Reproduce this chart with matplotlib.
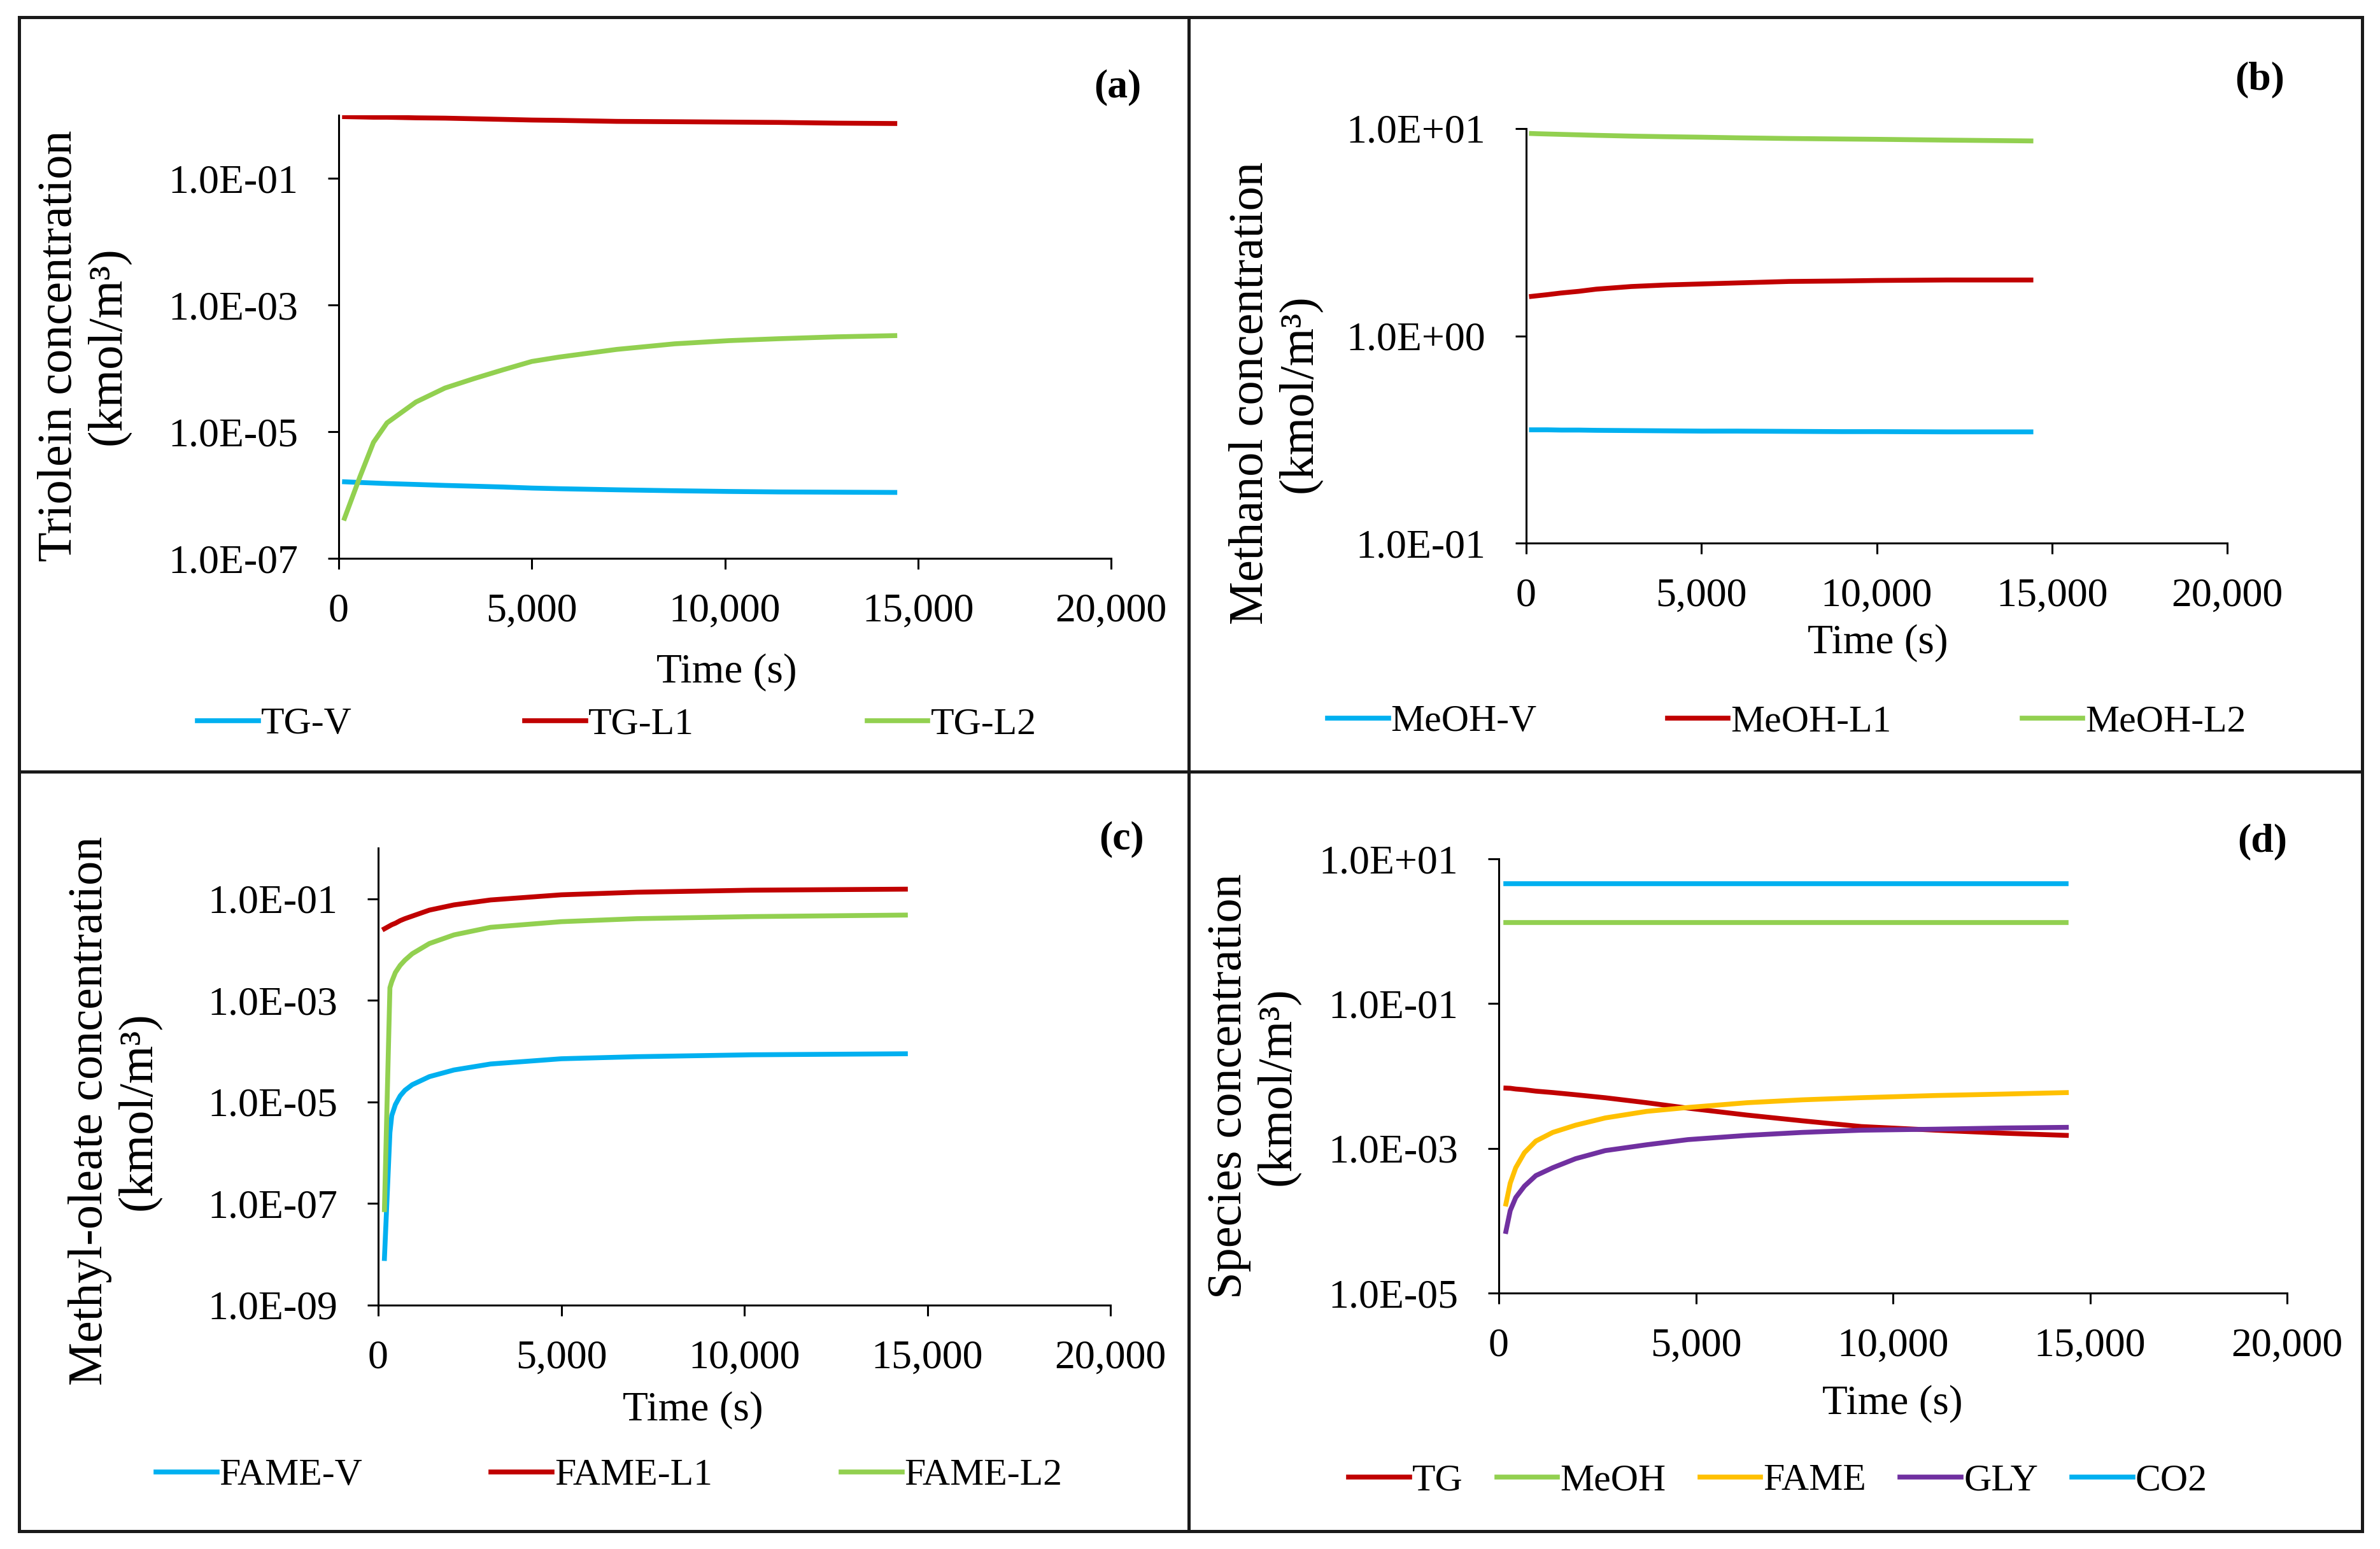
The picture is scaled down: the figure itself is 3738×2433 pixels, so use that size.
import matplotlib
matplotlib.use("Agg")
import matplotlib.pyplot as plt
from matplotlib.lines import Line2D
from matplotlib.ticker import FuncFormatter, FixedLocator, NullLocator

plt.rcParams['font.family'] = ['Liberation Serif', 'DejaVu Serif']

# ---- data ----
# (a) triolein
t_a = [150, 550, 900, 1250, 2000, 2750, 3500, 4250, 5000, 5700, 7200, 8700, 10100, 11400, 12900, 14400]
tg_v = [1.62e-6, 1.58e-6, 1.55e-6, 1.52e-6, 1.47e-6, 1.42e-6, 1.38e-6, 1.34e-6, 1.29e-6, 1.26e-6,
        1.21e-6, 1.17e-6, 1.14e-6, 1.12e-6, 1.11e-6, 1.10e-6]
tg_l1 = [0.95, 0.94, 0.93, 0.93, 0.91, 0.90, 0.88, 0.86, 0.84, 0.83, 0.80, 0.79, 0.78, 0.77, 0.75, 0.74]
tg_l2 = [4.3e-7, 1.95e-6, 6.8e-6, 1.38e-5, 2.95e-5, 4.9e-5, 6.9e-5, 9.5e-5, 1.29e-4, 1.51e-4,
         2.0e-4, 2.45e-4, 2.75e-4, 2.95e-4, 3.16e-4, 3.3e-4]

# (b) methanol
t_b = [150, 300, 600, 1000, 1500, 2000, 3000, 4000, 5000, 6000, 7500, 9000, 10000, 12000, 14400]
meoh_v = [0.352, 0.352, 0.352, 0.351, 0.351, 0.350, 0.349, 0.348, 0.347, 0.347, 0.346, 0.345,
          0.345, 0.344, 0.344]
meoh_l1 = [1.55, 1.56, 1.58, 1.61, 1.64, 1.68, 1.73, 1.76, 1.78, 1.80, 1.83, 1.84, 1.85, 1.86, 1.86]
meoh_l2 = [9.47, 9.45, 9.42, 9.38, 9.33, 9.28, 9.20, 9.14, 9.09, 9.03, 8.96, 8.91, 8.88, 8.80, 8.72]

# (c) methyl-oleate
t_c = [170, 320, 370, 470, 600, 730, 930, 1400, 2070, 3070, 5000, 7070, 10200, 14400]
fame_v = [8.3e-9, 2.5e-6, 5.4e-6, 8.9e-6, 1.32e-5, 1.7e-5, 2.19e-5, 3.16e-5, 4.27e-5, 5.6e-5,
          7.1e-5, 7.8e-5, 8.5e-5, 8.9e-5]
fame_l1 = [2.57e-2, 2.95e-2, 3.09e-2, 3.31e-2, 3.72e-2, 4.07e-2, 4.57e-2, 6.0e-2, 7.6e-2, 9.5e-2,
           0.120, 0.135, 0.148, 0.155]
fame_l2 = [7.6e-8, 1.78e-3, 2.34e-3, 3.55e-3, 4.9e-3, 6.2e-3, 8.3e-3, 1.32e-2, 1.95e-2, 2.75e-2,
           3.55e-2, 4.07e-2, 4.47e-2, 4.79e-2]

# (d) species
t_d = [180, 290, 430, 650, 940, 1370, 1950, 2700, 3750, 4800, 6300, 7700, 9200, 11100, 12800, 14400]
sp_tg = [6.8e-3, 6.76e-3, 6.6e-3, 6.45e-3, 6.17e-3, 5.9e-3, 5.5e-3, 5.0e-3, 4.27e-3, 3.59e-3,
         2.88e-3, 2.40e-3, 2.0e-3, 1.78e-3, 1.62e-3, 1.51e-3]
sp_meoh = [1.31] * 16
sp_fame = [1.7e-4, 3.3e-4, 5.4e-4, 8.7e-4, 1.26e-3, 1.66e-3, 2.09e-3, 2.63e-3, 3.24e-3, 3.67e-3,
           4.27e-3, 4.68e-3, 5.01e-3, 5.37e-3, 5.62e-3, 5.89e-3]
sp_gly = [7.1e-5, 1.38e-4, 2.09e-4, 3.0e-4, 4.2e-4, 5.4e-4, 7.2e-4, 9.3e-4, 1.12e-3, 1.32e-3,
          1.51e-3, 1.66e-3, 1.78e-3, 1.84e-3, 1.91e-3, 1.95e-3]
sp_co2 = [4.5] * 16

x_ticks = [0, 5000, 10000, 15000, 20000]

CYAN, RED, GREEN, YELLOW, PURPLE = '#00B0F0', '#C00000', '#92D050', '#FFC000', '#7030A0'

W, H = 3738, 2433
fig = plt.figure(figsize=(W / 100, H / 100), dpi=100, facecolor='white')


def fx(x):
    return x / W


def fy(y):
    return 1 - y / H


def make_axes(box, ylim, yticks):
    l, t, r, b = box
    ax = fig.add_axes([fx(l), fy(b), (r - l) / W, (b - t) / H])
    ax.set_yscale('log')
    ax.set_xlim(0, 20000)
    ax.set_ylim(*ylim)
    ax.xaxis.set_major_locator(FixedLocator(x_ticks))
    ax.yaxis.set_major_locator(FixedLocator(yticks))
    ax.yaxis.set_minor_locator(NullLocator())
    ax.xaxis.set_major_formatter(FuncFormatter(lambda v, p: f"{v:,.0f}"))
    ax.yaxis.set_major_formatter(FuncFormatter(lambda v, p: f"{v:.1E}"))
    for s in ['top', 'right']:
        ax.spines[s].set_visible(False)
    for s in ['left', 'bottom']:
        ax.spines[s].set_linewidth(2.2)
        ax.spines[s].set_color('black')
    ax.tick_params(axis='both', direction='out', length=12, width=2.2, labelsize=46)
    ax.tick_params(axis='x', pad=27)
    ax.tick_params(axis='y', pad=34)
    ax.set_facecolor('none')
    return ax


def finish(ax, lines, labels, leg_xy, colsp, ylab_xy, ylab, xlab_xy, tag_xy, tag):
    ax.legend(lines, labels, loc='center left', bbox_to_anchor=(fx(leg_xy[0]), fy(leg_xy[1])),
              bbox_transform=fig.transFigure, ncol=len(lines), frameon=False, fontsize=43,
              borderpad=0, borderaxespad=0, handlelength=1.6, handletextpad=0.07,
              columnspacing=colsp)
    fig.text(fx(ylab_xy[0]), fy(ylab_xy[1]), ylab, rotation=90, ha='center', va='center',
             multialignment='center', fontsize=55, linespacing=1.15)
    fig.text(fx(xlab_xy[0]), fy(xlab_xy[1]), 'Time (s)', ha='center', va='center', fontsize=47)
    fig.text(fx(tag_xy[0]), fy(tag_xy[1]), tag, ha='center', va='center', fontsize=46,
             fontweight='bold')


LW = 5.5

# (a)
ax = make_axes((532, 181, 1745, 877), (1e-7, 1e0), [1e-7, 1e-5, 1e-3, 1e-1])
l1, = ax.plot(t_a, tg_v, color=CYAN, lw=LW)
l2, = ax.plot(t_a, tg_l1, color=RED, lw=LW)
l3, = ax.plot(t_a, tg_l2, color=GREEN, lw=LW)
finish(ax, [l1, l2, l3], ['TG-V', 'TG-L1', 'TG-L2'], (310, 1138), 4.55,
       (132, 543), 'Triolein concentration\n(kmol/m³)', (1141, 1056), (1755, 137), '(a)')

# (b)
ax = make_axes((2397, 202, 3498, 853), (1e-1, 1e1), [1e-1, 1e0, 1e1])
l1, = ax.plot(t_b, meoh_v, color=CYAN, lw=LW)
l2, = ax.plot(t_b, meoh_l1, color=RED, lw=LW)
l3, = ax.plot(t_b, meoh_l2, color=GREEN, lw=LW)
finish(ax, [l1, l2, l3], ['MeOH-V', 'MeOH-L1', 'MeOH-L2'], (2085, 1134), 3.43,
       (2003, 618), 'Methanol concentration\n(kmol/m³)', (2949, 1010), (3549, 125), '(b)')

# (c)
ax = make_axes((594, 1332, 1744, 2050), (1e-9, 1e0), [1e-9, 1e-7, 1e-5, 1e-3, 1e-1])
l1, = ax.plot(t_c, fame_v, color=CYAN, lw=LW)
l2, = ax.plot(t_c, fame_l1, color=RED, lw=LW)
l3, = ax.plot(t_c, fame_l2, color=GREEN, lw=LW)
finish(ax, [l1, l2, l3], ['FAME-V', 'FAME-L1', 'FAME-L2'], (245, 2318), 3.38,
       (180, 1745), 'Methyl-oleate concentration\n(kmol/m³)', (1088, 2215), (1762, 1318), '(c)')

# (d)
ax = make_axes((2354, 1349, 3592, 2031), (1e-5, 1e1), [1e-5, 1e-3, 1e-1, 1e1])
l1, = ax.plot(t_d, sp_tg, color=RED, lw=LW)
l2, = ax.plot(t_d, sp_meoh, color=GREEN, lw=LW)
l3, = ax.plot(t_d, sp_fame, color=YELLOW, lw=LW)
l4, = ax.plot(t_d, sp_gly, color=PURPLE, lw=LW)
l5, = ax.plot(t_d, sp_co2, color=CYAN, lw=LW)
finish(ax, [l1, l2, l3, l4, l5], ['TG', 'MeOH', 'FAME', 'GLY', 'CO2'], (2118, 2326), 0.89,
       (1969, 1706), 'Species concentration\n(kmol/m³)', (2972, 2205), (3553, 1322), '(d)')

# panel frames
frame = dict(color='#1a1a1a', lw=3.6, transform=fig.transFigure)
x0, x1, xm = 30, 3710, 1867
y0, y1, ym = 27, 2405, 1212
for xs, ys in [((x0, x1), (y0, y0)), ((x0, x1), (y1, y1)), ((x0, x0), (y0, y1)),
               ((x1, x1), (y0, y1)), ((xm, xm), (y0, y1)), ((x0, x1), (ym, ym))]:
    fig.add_artist(Line2D([fx(v) for v in xs], [fy(v) for v in ys], **frame))

fig.savefig('out.png', dpi=100, facecolor='white')
